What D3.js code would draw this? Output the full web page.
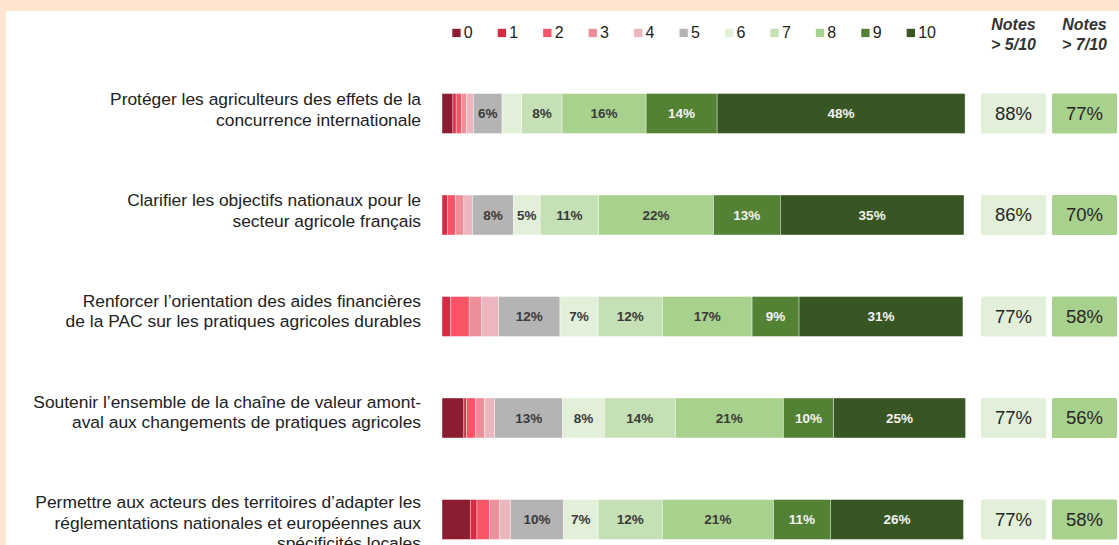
<!DOCTYPE html>
<html><head><meta charset="utf-8">
<script src="https://cdn.jsdelivr.net/npm/d3@7"></script>
<style>
html,body{margin:0;padding:0;background:#fde5cf;}
svg{display:block;font-family:"Liberation Sans",Arial,sans-serif;}
</style></head>
<body>
<svg id="chart" width="1119" height="545"></svg>
<script>
// ---- data ----
const categories = [
  ["Protéger les agriculteurs des effets de la", "concurrence internationale"],
  ["Clarifier les objectifs nationaux pour le", "secteur agricole français"],
  ["Renforcer l’orientation des aides financières", "de la PAC sur les pratiques agricoles durables"],
  ["Soutenir l’ensemble de la chaîne de valeur amont-", "aval aux changements de pratiques agricoles"],
  ["Permettre aux acteurs des territoires d’adapter les", "réglementations nationales et européennes aux", "spécificités locales"]
];
const scoreKeys = ["0","1","2","3","4","5","6","7","8","9","10"];
const score0  = [2.1, 0.0, 0.0, 4.2, 5.4];
const score1  = [0.6, 1.0, 1.7, 0.5, 1.3];
const score2  = [1.0, 1.6, 3.5, 1.7, 2.4];
const score3  = [1.0, 1.6, 2.4, 1.8, 1.9];
const score4  = [1.3, 1.6, 3.2, 1.9, 2.1];
const score5  = [5.5, 7.9, 11.8, 13.0, 10.2];
const score6  = [3.8, 5.1, 7.3, 8.0, 6.6];
const score7  = [7.7, 11.2, 12.3, 13.6, 12.3];
const score8  = [16.1, 22.0, 17.2, 20.7, 21.3];
const score9  = [13.6, 12.8, 9.0, 9.6, 10.9];
const score10 = [47.5, 35.2, 31.4, 25.3, 25.5];
const notesAbove5 = [88, 86, 77, 77, 77];
const notesAbove7 = [77, 70, 58, 56, 58];
const notesHeaders = [["Notes", "> 5/10"], ["Notes", "> 7/10"]];

const colors = ["#8c1c30","#d62b43","#fa5566","#ee8e99","#ecb6be","#b4b4b4",
                "#e2f0d9","#c5e0b4","#a9d18e","#548235","#375623"];
const seriesValues = [score0,score1,score2,score3,score4,score5,score6,score7,score8,score9,score10];

// ---- build table ----
const rows = categories.map((c, i) => {
  const r = {id: i};
  scoreKeys.forEach((k, j) => r[k] = seriesValues[j][i]);
  return r;
});
const stack = d3.stack().keys(scoreKeys)(rows);

const svg = d3.select("#chart");
// white panel
svg.append("rect").attr("x", 6).attr("y", 11).attr("width", 1119).attr("height", 545).attr("fill", "#fff");

const x = d3.scaleLinear().domain([0, 100]).range([442, 964]);
const step = 101.5;
const r0 = 93.5 - step * 0.303;
const y = d3.scaleBand().domain(d3.range(categories.length))
  .range([r0, r0 + step * categories.length]).paddingInner(0.606).paddingOuter(0.303);
const color = d3.scaleOrdinal().domain(scoreKeys).range(colors);

// bars
const g = svg.append("g");
stack.forEach((layer, li) => {
  const key = layer.key;
  g.selectAll(null).data(layer).join("rect")
    .attr("x", d => x(d[0]))
    .attr("y", (d, i) => y(i))
    .attr("width", d => Math.max(0, x(d[1]) - x(d[0])))
    .attr("height", y.bandwidth())
    .attr("fill", color(key))
    .attr("stroke", "#fff").attr("stroke-width", 0.4);
  if (li >= 5) {
    g.selectAll(null).data(layer.filter(d => (d[1] - d[0]) >= 4.5)).join("text")
      .attr("x", d => (x(d[0]) + x(d[1])) / 2)
      .attr("y", d => y(d.data.id) + y.bandwidth() / 2 + 5)
      .attr("text-anchor", "middle")
      .attr("font-size", 13.5).attr("font-weight", "bold")
      .attr("fill", li >= 9 ? "#f2f2f2" : "#3a3a3a")
      .text(d => Math.round(d[1] - d[0]) + "%");
  }
});

// category labels
const lab = svg.append("g");
categories.forEach((lines, i) => {
  const t = lab.append("text").attr("text-anchor", "end").attr("font-size", 17.4).attr("fill", "#222");
  lines.forEach((ln, k) => {
    t.append("tspan").attr("x", 421).attr("y", y(i) + y.bandwidth() / 2 - 8 - i * 0.8 + k * 20.6).text(ln);
  });
});

// legend
const legend = svg.append("g");
const lx = d3.scalePoint().domain(scoreKeys).range([452.3, 906.7]);
scoreKeys.forEach(k => {
  legend.append("rect").attr("x", lx(k)).attr("y", 28.8).attr("width", 8.3).attr("height", 8.3).attr("fill", color(k));
  legend.append("text").attr("x", lx(k) + 11.5).attr("y", 38.3).attr("font-size", 16).attr("fill", "#222").text(k);
});

// notes columns
const notesCols = [
  {vals: notesAbove5, x0: 981, fill: "#e2f0d9"},
  {vals: notesAbove7, x0: 1052, fill: "#a9d18e"}
];
notesCols.forEach((col, ci) => {
  const w = 65;
  const hdr = svg.append("text").attr("text-anchor", "middle").attr("font-size", 16)
    .attr("font-weight", "bold").attr("font-style", "italic").attr("fill", "#333");
  notesHeaders[ci].forEach((h, k) => hdr.append("tspan").attr("x", col.x0 + w / 2).attr("y", 30 + k * 20).text(h));
  const gg = svg.append("g");
  gg.selectAll("rect").data(col.vals).join("rect")
    .attr("x", col.x0).attr("y", (d, i) => y(i)).attr("width", w).attr("height", y.bandwidth())
    .attr("rx", 1.5).attr("fill", col.fill);
  gg.selectAll("text").data(col.vals).join("text")
    .attr("x", col.x0 + w / 2).attr("y", (d, i) => y(i) + y.bandwidth() / 2 + 6.5)
    .attr("text-anchor", "middle").attr("font-size", 18.5).attr("fill", "#262626")
    .text(d => d + "%");
});
</script>
</body></html>
